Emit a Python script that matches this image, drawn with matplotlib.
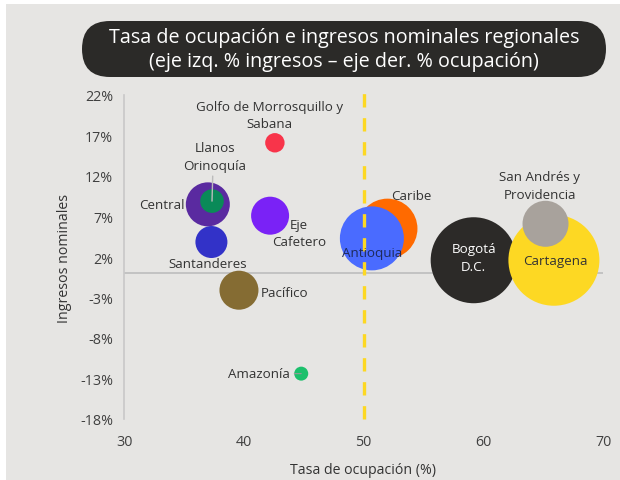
import matplotlib
matplotlib.use("Agg")
import matplotlib.pyplot as plt
from matplotlib.patches import FancyBboxPatch, Rectangle

plt.rcParams['font.family'] = ['Open Sans', 'DejaVu Sans']

regions = ["Golfo de Morrosquillo y\nSabana", "Central", "Llanos\nOrinoquía", "Santanderes",
           "Eje\nCafetero", "Pacífico", "Amazonía", "Caribe", "Antioquia", "Bogotá\nD.C.",
           "Cartagena", "San Andrés y\nProvidencia"]
ocupacion = [42.6, 37.0, 37.35, 37.3, 42.2, 39.6, 44.8, 52.0, 50.7, 59.2, 65.9, 65.2]
ingresos = [16.1, 8.5, 8.9, 3.85, 7.1, -2.1, -12.4, 5.5, 4.3, 1.6, 1.6, 6.1]
bubble = [9.7, 22, 11.8, 16, 19, 19.5, 7, 30, 32, 43, 45.5, 23]
colors = ["#F8344A", "#5A2AA0", "#0A8A58", "#3232C8", "#7A22F6", "#856C33", "#1CC06C",
          "#FF6A00", "#4A6BFF", "#2C2A28", "#FDD823", "#A8A29C"]
xticks = [30, 40, 50, 60, 70]
yticks = [-18, -13, -8, -3, 2, 7, 12, 17, 22]

# label layout: (dx, dy) in points, ha, va, color
layout = [
    (-4, 20, 'center', 'center', '#333333'),
    (-17, 0, 'right', 'center', '#333333'),
    (2, 32, 'center', 'center', '#333333'),
    (-3, -15.5, 'center', 'center', '#333333'),
    (21, -12.5, 'center', 'center', '#333333'),
    (16, -1.5, 'left', 'center', '#333333'),
    (-8, 0, 'right', 'center', '#333333'),
    (17, 24, 'center', 'center', '#333333'),
    (0, -10, 'center', 'center', '#1E2A5A'),
    (0, 2, 'center', 'center', 'white'),
    (1, 0, 'center', 'center', '#333333'),
    (-4, 27.5, 'center', 'center', '#333333'),
]

fig = plt.figure(figsize=(6.2, 4.81), dpi=100)
fig.patch.set_facecolor('white')
fig.patches.append(Rectangle((6/620, 0), 1, 1 - 5/481, transform=fig.transFigure,
                             facecolor='#E6E5E3', edgecolor='none', zorder=-10))

ax = fig.add_axes([124/620, 1 - 420/481, (603 - 124)/620, (420 - 96)/481])
ax.set_facecolor('none')
ax.set_xlim(30, 70)
ax.set_ylim(-18, 22)

for i in range(len(regions)):
    s = (2 * bubble[i] * 0.72) ** 2
    ax.scatter(ocupacion[i], ingresos[i], s=s, color=colors[i], edgecolor='none', zorder=3 + i * 0.01)

ax.axhline(0, color='#BDBDBD', lw=1.2, zorder=1)
ax.axvline(50, ymin=0, ymax=1.025, color='#FDD823', lw=2.4, ls=(0, (4, 3.2)), zorder=5, clip_on=False)

for i, name in enumerate(regions):
    dx, dy, ha, va, col = layout[i]
    ax.annotate(name, (ocupacion[i], ingresos[i]), xytext=(dx, dy), textcoords='offset points',
                ha=ha, va=va, fontsize=9.6, color=col, zorder=6, linespacing=1.45)

# leader lines
ax.annotate("", (ocupacion[2], ingresos[2]), xytext=(0.5, 18), textcoords='offset points',
            arrowprops=dict(arrowstyle='-', color='#BBBBBB', lw=1, shrinkA=0, shrinkB=0), zorder=7)
ax.annotate("", (ocupacion[6], ingresos[6]), xytext=(-5, 0), textcoords='offset points',
            arrowprops=dict(arrowstyle='-', color='#999999', lw=0.8, shrinkA=0, shrinkB=0), zorder=7)

ax.set_xticks(xticks)
ax.set_xticklabels([str(t) for t in xticks])
ax.set_yticks(yticks)
ax.set_yticklabels([f"{t}%" for t in yticks])
ax.tick_params(axis='both', length=0, labelsize=10.3, colors='#404040')
ax.tick_params(axis='x', pad=11)
ax.tick_params(axis='y', pad=8)
for sp in ['top', 'right', 'bottom']:
    ax.spines[sp].set_visible(False)
ax.spines['left'].set_color('#C8C8C8')
ax.spines['left'].set_linewidth(1.2)

ax.set_xlabel("Tasa de ocupación (%)", fontsize=10.2, color='#333333', labelpad=9)
ax.set_ylabel("Ingresos nominales", fontsize=10.2, color='#333333', labelpad=6)

box = FancyBboxPatch((0.82, (481 - 78) / 100), 5.24, 0.56,
                     boxstyle="round,pad=0,rounding_size=0.28",
                     transform=fig.dpi_scale_trans, facecolor='#2B2A28', edgecolor='none')
fig.patches.append(box)
fig.text(344 / 620, 1 - 50 / 481,
         "Tasa de ocupación e ingresos nominales regionales\n(eje izq. % ingresos \u2013 eje der. % ocupación)",
         ha='center', va='center', color='white', fontsize=14.2, linespacing=1.2)

fig.savefig("out.png", dpi=100, facecolor=fig.get_facecolor())
